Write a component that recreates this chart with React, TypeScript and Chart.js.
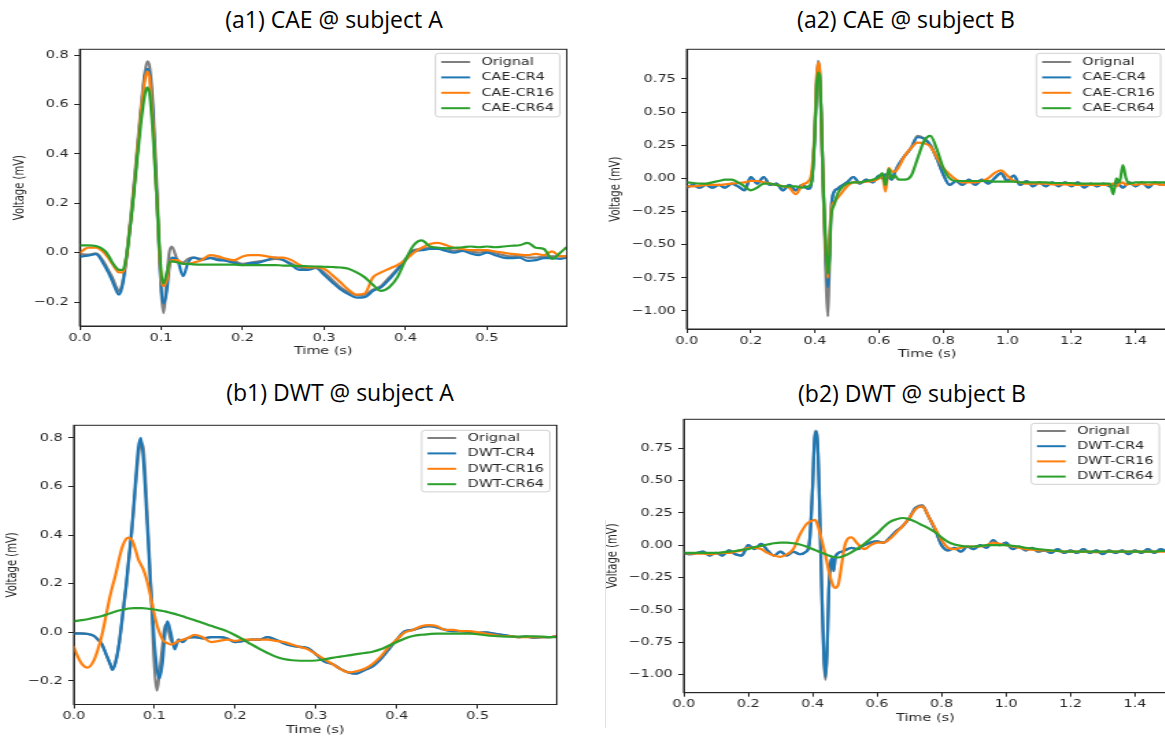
import React, { useEffect, useRef } from "react";
import { Chart, registerables } from "chart.js";

Chart.register(...registerables);

// ---------- data ----------
const seriesColors = ["#7f7f7f", "#1f77b4", "#ff7f0e", "#2ca02c"];
const caeNames = ["Orignal", "CAE-CR4", "CAE-CR16", "CAE-CR64"];
const dwtNames = ["Orignal", "DWT-CR4", "DWT-CR16", "DWT-CR64"];

const xTicksA = [0, 0.1, 0.2, 0.3, 0.4, 0.5];
const xLabelsA = ["0.0", "0.1", "0.2", "0.3", "0.4", "0.5"];
const xTicksB = [0, 0.2, 0.4, 0.6, 0.8, 1.0, 1.2, 1.4];
const xLabelsB = ["0.0", "0.2", "0.4", "0.6", "0.8", "1.0", "1.2", "1.4"];
const yTicksA = [-0.2, 0, 0.2, 0.4, 0.6, 0.8];
const yLabelsA = ["\u22120.2", "0.0", "0.2", "0.4", "0.6", "0.8"];
const yTicksB = [-1, -0.75, -0.5, -0.25, 0, 0.25, 0.5, 0.75];
const yLabelsB = ["\u22121.00", "\u22120.75", "\u22120.50", "\u22120.25", "0.00", "0.25", "0.50", "0.75"];

// (a1) CAE @ subject A
const timeA1 = [
  0, 0.01, 0.02, 0.03, 0.035, 0.04, 0.045, 0.048, 0.052, 0.056,
  0.06, 0.065, 0.07, 0.075, 0.08, 0.083, 0.086, 0.09, 0.095, 0.1,
  0.103, 0.107, 0.11, 0.113, 0.12, 0.127, 0.133, 0.14,
  0.15, 0.16, 0.17, 0.18, 0.19, 0.2, 0.21, 0.22, 0.23, 0.24,
  0.25, 0.26, 0.27, 0.28, 0.29, 0.3, 0.31, 0.32, 0.33, 0.34,
  0.35, 0.36, 0.37, 0.38, 0.39, 0.4, 0.41, 0.42, 0.43, 0.44,
  0.45, 0.46, 0.47, 0.48, 0.49, 0.5, 0.51, 0.52, 0.53, 0.54,
  0.55, 0.56, 0.57, 0.58, 0.59, 0.597,
];
const origA1 = [
  -0.005, -0.008, -0.003, -0.04, -0.07, -0.1, -0.14, -0.155, -0.13, -0.05,
  0.06, 0.22, 0.4, 0.58, 0.73, 0.775, 0.75, 0.6, 0.25, -0.15,
  -0.245, -0.1, 0.0, 0.025, -0.03, -0.04, -0.025, -0.02,
  -0.025, -0.02, -0.025, -0.03, -0.035, -0.045, -0.04, -0.035, -0.03, -0.025,
  -0.03, -0.045, -0.06, -0.065, -0.06, -0.08, -0.11, -0.14, -0.16, -0.172,
  -0.17, -0.15, -0.135, -0.1, -0.065, -0.025, 0.01, 0.015, 0.02, 0.02,
  0.015, 0.008, 0.012, 0.005, 0.0, 0.005, -0.002, -0.01, -0.015, -0.012,
  -0.02, -0.02, -0.015, -0.015, -0.015, -0.015,
];
const cr4A1 = [
  -0.016, -0.012, -0.006, -0.05, -0.08, -0.115, -0.155, -0.17, -0.14, -0.06,
  0.044, 0.2, 0.375, 0.56, 0.713, 0.745, 0.72, 0.56, 0.2, -0.14,
  -0.205, -0.155, -0.06, -0.02, -0.03, -0.095, -0.04, -0.02,
  -0.03, -0.022, -0.03, -0.033, -0.042, -0.05, -0.042, -0.04, -0.03, -0.02,
  -0.03, -0.05, -0.07, -0.07, -0.062, -0.09, -0.12, -0.148, -0.168, -0.182,
  -0.18, -0.155, -0.14, -0.108, -0.07, -0.03, 0.007, 0.01, 0.015, 0.015,
  0.007, 0.0, 0.007, -0.003, -0.01, 0.0, -0.01, -0.02, -0.022, -0.02,
  -0.033, -0.03, -0.022, -0.022, -0.025, -0.02,
];
const cr16A1 = [
  0.0, 0.02, 0.02, 0.0, -0.02, -0.045, -0.07, -0.08, -0.08, -0.05,
  0.05, 0.2, 0.38, 0.56, 0.7, 0.735, 0.7, 0.52, 0.2, -0.1,
  -0.135, -0.11, -0.05, -0.03, -0.03, -0.045, -0.045, -0.04,
  -0.03, -0.01, -0.015, -0.025, -0.03, -0.015, -0.01, -0.01, -0.015, -0.02,
  -0.02, -0.03, -0.05, -0.06, -0.06, -0.065, -0.09, -0.12, -0.15, -0.17,
  -0.165, -0.1, -0.08, -0.065, -0.05, -0.03, 0.0, 0.02, 0.035, 0.04,
  0.03, 0.02, 0.015, 0.01, 0.01, 0.01, 0.005, 0.0, -0.005, -0.008,
  -0.01, -0.005, -0.01, 0.005, -0.015, -0.015,
];
const cr64A1 = [
  0.03, 0.03, 0.027, 0.01, -0.01, -0.04, -0.062, -0.07, -0.07, -0.04,
  0.05, 0.19, 0.36, 0.52, 0.64, 0.67, 0.64, 0.48, 0.2, -0.08,
  -0.125, -0.08, -0.04, -0.035, -0.04, -0.045, -0.045, -0.047,
  -0.048, -0.048, -0.048, -0.048, -0.048, -0.05, -0.05, -0.05, -0.05, -0.05,
  -0.052, -0.052, -0.054, -0.055, -0.056, -0.057, -0.058, -0.06, -0.065, -0.08,
  -0.1, -0.13, -0.155, -0.14, -0.1, -0.03, 0.03, 0.05, 0.025, 0.02,
  0.018, 0.02, 0.022, 0.025, 0.022, 0.025, 0.022, 0.025, 0.028, 0.03,
  0.04, 0.02, 0.015, -0.025, 0.0, 0.02,
];

// (a2) CAE @ subject B
const timeA2 = [
  0, 0.02, 0.04, 0.06, 0.08, 0.1, 0.12, 0.14, 0.16, 0.18, 0.2, 0.22, 0.24, 0.26, 0.28, 0.3, 0.32, 0.34, 0.36, 0.38,
  0.39, 0.4, 0.405, 0.41, 0.415, 0.42, 0.425, 0.43, 0.435, 0.44, 0.445, 0.45, 0.46, 0.47, 0.48,
  0.5, 0.52, 0.54, 0.56, 0.58, 0.6,
  0.61, 0.62, 0.63, 0.64, 0.65, 0.66,
  0.68, 0.7, 0.72, 0.74, 0.76, 0.78, 0.8, 0.82, 0.84, 0.86, 0.88, 0.9, 0.92, 0.94, 0.96, 0.98, 1.0,
  1.02, 1.04, 1.06, 1.08, 1.1, 1.12, 1.14, 1.16, 1.18, 1.2, 1.22, 1.24, 1.26, 1.28, 1.3, 1.32,
  1.33, 1.34, 1.35, 1.36, 1.37, 1.38,
  1.4, 1.42, 1.44, 1.46, 1.48, 1.5,
];
const origA2 = [
  -0.07, -0.05, -0.07, -0.05, -0.07, -0.05, -0.07, -0.04, -0.06, -0.09, 0.01, -0.04, 0.01, -0.05, -0.04, -0.09, -0.05, -0.09, -0.05, -0.08,
  -0.02, 0.37, 0.72, 0.885, 0.8, 0.45, 0.0, -0.4, -0.8, -1.04, -0.7, -0.28, -0.1, -0.08, -0.06,
  -0.03, 0.01, -0.04, -0.01, -0.03, 0.02,
  0.0, 0.03, 0.01, -0.01, 0.05, 0.1,
  0.17, 0.23, 0.32, 0.3, 0.25, 0.15, 0.03, -0.05, -0.02, -0.05, -0.01, -0.05, -0.01, -0.04, 0.0, 0.04, -0.02,
  0.02, -0.05, -0.02, -0.06, -0.03, -0.06, -0.03, -0.06, -0.03, -0.06, -0.03, -0.07, -0.04, -0.06, -0.04, -0.06,
  -0.05, -0.03, -0.05, -0.07, -0.05, -0.03,
  -0.06, -0.03, -0.07, -0.03, -0.05, -0.04,
];
const cr4A2 = [
  -0.07, -0.05, -0.07, -0.05, -0.07, -0.05, -0.07, -0.04, -0.06, -0.09, 0.01, -0.04, 0.01, -0.05, -0.04, -0.09, -0.05, -0.09, -0.05, -0.08,
  -0.02, 0.35, 0.7, 0.85, 0.78, 0.45, 0.0, -0.35, -0.65, -0.82, -0.6, -0.25, -0.1, -0.08, -0.06,
  -0.03, 0.01, -0.04, -0.01, -0.03, 0.02,
  0.0, 0.03, 0.01, -0.01, 0.05, 0.1,
  0.17, 0.23, 0.31, 0.3, 0.25, 0.15, 0.03, -0.05, -0.02, -0.05, -0.01, -0.05, -0.01, -0.04, 0.0, 0.04, -0.02,
  0.02, -0.05, -0.02, -0.06, -0.03, -0.06, -0.03, -0.06, -0.03, -0.06, -0.03, -0.07, -0.04, -0.06, -0.04, -0.06,
  -0.05, -0.03, -0.05, -0.07, -0.05, -0.03,
  -0.06, -0.03, -0.07, -0.03, -0.05, -0.04,
];
const cr16A2 = [
  -0.06, -0.06, -0.055, -0.05, -0.05, -0.05, -0.045, -0.04, -0.035, -0.03, -0.02, -0.02, -0.03, -0.04, -0.05, -0.06, -0.07, -0.12, -0.05, -0.02,
  0.05, 0.4, 0.75, 0.87, 0.8, 0.45, 0.0, -0.35, -0.6, -0.75, -0.55, -0.25, -0.18, -0.15, -0.12,
  -0.06, -0.03, -0.03, -0.025, -0.02, 0.0,
  0.02, -0.1, 0.08, 0.05, 0.05, 0.08,
  0.17, 0.23, 0.27, 0.265, 0.24, 0.16, 0.08, 0.03, -0.01, -0.03, -0.03, -0.03, -0.02, 0.0, 0.04, 0.06, 0.02,
  -0.02, -0.03, -0.04, -0.04, -0.04, -0.04, -0.045, -0.045, -0.045, -0.05, -0.05, -0.05, -0.05, -0.05, -0.05, -0.05,
  -0.04, -0.06, -0.04, -0.03, -0.05, -0.04,
  -0.05, -0.04, -0.05, -0.04, -0.05, -0.05,
];
const cr64A2 = [
  -0.03, -0.035, -0.04, -0.04, -0.03, -0.02, -0.01, -0.01, -0.03, -0.06, -0.09, -0.07, -0.04, -0.04, -0.05, -0.06, -0.06, -0.06, -0.07, -0.06,
  -0.02, 0.35, 0.68, 0.8, 0.76, 0.45, 0.0, -0.3, -0.55, -0.72, -0.6, -0.3, -0.2, -0.12, -0.08,
  -0.04, -0.03, -0.03, -0.02, -0.01, 0.01,
  0.04, -0.05, 0.07, 0.0, 0.02, -0.01,
  -0.01, 0.02, 0.15, 0.28, 0.32, 0.22, 0.08, 0.0, -0.02, -0.02, -0.02, -0.02, -0.02, -0.02, -0.025, -0.025, -0.025,
  -0.025, -0.03, -0.03, -0.03, -0.03, -0.03, -0.035, -0.035, -0.035, -0.035, -0.04, -0.04, -0.04, -0.04, -0.04, -0.04,
  -0.12, 0.0, -0.03, 0.1, 0.0, -0.04,
  -0.03, -0.03, -0.03, -0.03, -0.03, -0.03,
];

// (b1) DWT @ subject A
const timeB1 = [
  0, 0.005, 0.01, 0.017, 0.025, 0.03, 0.035, 0.04, 0.045, 0.048,
  0.052, 0.056, 0.06, 0.065, 0.068, 0.072, 0.076, 0.08, 0.083, 0.086,
  0.09, 0.095, 0.1, 0.103, 0.106, 0.11, 0.113, 0.116, 0.12, 0.125,
  0.13, 0.135, 0.14,
  0.15, 0.16, 0.17, 0.18, 0.19, 0.2, 0.21, 0.22, 0.23, 0.24,
  0.25, 0.26, 0.27, 0.28, 0.29, 0.3, 0.31, 0.32, 0.33, 0.34,
  0.35, 0.36, 0.37, 0.38, 0.39, 0.4, 0.41, 0.42, 0.43, 0.44,
  0.45, 0.46, 0.47, 0.48, 0.49, 0.5, 0.51, 0.52, 0.53, 0.54,
  0.55, 0.56, 0.57, 0.58, 0.59, 0.597,
];
const origB1 = [
  -0.003, -0.003, -0.004, -0.006, -0.014, -0.03, -0.05, -0.09, -0.13, -0.15,
  -0.12, -0.05, 0.05, 0.19, 0.29, 0.42, 0.58, 0.73, 0.78, 0.76,
  0.55, 0.22, -0.15, -0.24, -0.17, -0.05, 0.03, 0.02, -0.03, -0.05,
  -0.03, -0.04, -0.025,
  -0.02, -0.025, -0.02, -0.02, -0.025, -0.04, -0.035, -0.03, -0.03, -0.02,
  -0.03, -0.045, -0.055, -0.06, -0.065, -0.09, -0.12, -0.13, -0.15, -0.165,
  -0.17, -0.155, -0.14, -0.11, -0.07, -0.03, 0.005, 0.01, 0.02, 0.025,
  0.02, 0.01, 0.005, 0.005, 0.0, -0.003, 0.0, -0.005, -0.01, -0.015,
  -0.02, -0.018, -0.022, -0.02, -0.02, -0.015,
];
const cr4B1 = [
  -0.005, -0.005, -0.005, -0.007, -0.015, -0.03, -0.05, -0.09, -0.13, -0.155,
  -0.12, -0.05, 0.06, 0.2, 0.3, 0.43, 0.6, 0.76, 0.8, 0.72,
  0.5, 0.2, -0.05, -0.15, -0.19, -0.12, 0.0, 0.045, 0.0, -0.07,
  -0.03, -0.04, -0.025,
  -0.02, -0.025, -0.02, -0.02, -0.025, -0.04, -0.035, -0.03, -0.03, -0.02,
  -0.03, -0.045, -0.055, -0.06, -0.065, -0.09, -0.12, -0.13, -0.15, -0.165,
  -0.17, -0.155, -0.14, -0.11, -0.07, -0.03, 0.005, 0.01, 0.02, 0.025,
  0.02, 0.01, 0.005, 0.005, 0.0, -0.003, 0.0, -0.005, -0.01, -0.015,
  -0.02, -0.018, -0.022, -0.02, -0.02, -0.015,
];
const cr16B1 = [
  -0.06, -0.1, -0.13, -0.145, -0.115, -0.07, -0.01, 0.07, 0.15, 0.19,
  0.24, 0.3, 0.35, 0.385, 0.39, 0.38, 0.345, 0.3, 0.28, 0.26,
  0.22, 0.15, 0.07, 0.03, 0.0, -0.03, -0.04, -0.045, -0.05, -0.045,
  -0.035, -0.03, -0.025,
  -0.01, -0.02, -0.04, -0.035, -0.03, -0.035, -0.03, -0.03, -0.03, -0.03,
  -0.035, -0.04, -0.05, -0.06, -0.07, -0.09, -0.11, -0.13, -0.15, -0.165,
  -0.16, -0.15, -0.13, -0.1, -0.06, -0.03, 0.0, 0.01, 0.025, 0.03,
  0.025, 0.01, 0.01, 0.005, 0.005, 0.0, -0.005, -0.01, -0.015, -0.015,
  -0.02, -0.02, -0.02, -0.02, -0.02, -0.015,
];
const cr64B1 = [
  0.045, 0.048, 0.05, 0.054, 0.06, 0.063, 0.067, 0.072, 0.078, 0.082,
  0.086, 0.09, 0.093, 0.096, 0.098, 0.099, 0.1, 0.1, 0.1, 0.099,
  0.098, 0.096, 0.094, 0.092, 0.09, 0.088, 0.086, 0.084, 0.08, 0.076,
  0.071, 0.066, 0.06,
  0.05, 0.038, 0.027, 0.016, 0.004, -0.012, -0.03, -0.05, -0.068, -0.085,
  -0.1, -0.11, -0.115, -0.117, -0.117, -0.116, -0.112, -0.105, -0.1, -0.095,
  -0.09, -0.085, -0.08, -0.07, -0.055, -0.04, -0.025, -0.015, -0.01, -0.007,
  -0.005, -0.005, -0.005, -0.005, -0.005, -0.008, -0.012, -0.015, -0.017, -0.018,
  -0.018, -0.017, -0.017, -0.018, -0.02, -0.02,
];

// (b2) DWT @ subject B
const timeB2 = [
  0, 0.02, 0.04, 0.06, 0.08, 0.1, 0.12, 0.14, 0.16, 0.18, 0.2, 0.22, 0.24, 0.26, 0.28, 0.3, 0.32, 0.34, 0.36, 0.38,
  0.39, 0.4, 0.405, 0.41, 0.415, 0.42, 0.425, 0.43, 0.435, 0.44, 0.445, 0.45, 0.46, 0.465, 0.47, 0.48, 0.49,
  0.5, 0.52, 0.54, 0.56, 0.58, 0.6, 0.62, 0.64, 0.66, 0.68,
  0.7, 0.72, 0.74, 0.76, 0.78, 0.8, 0.82, 0.84, 0.86, 0.88,
  0.9, 0.92, 0.94, 0.96, 0.98, 1.0, 1.02, 1.04, 1.06, 1.08,
  1.1, 1.12, 1.14, 1.16, 1.18, 1.2, 1.22, 1.24, 1.26, 1.28,
  1.3, 1.32, 1.34, 1.36, 1.38, 1.4, 1.42, 1.44, 1.46, 1.48, 1.5,
];
const origB2 = [
  -0.06, -0.07, -0.06, -0.05, -0.08, -0.06, -0.08, -0.04, -0.07, -0.08, 0.0, -0.03, 0.01, -0.04, -0.08, -0.05, -0.08, -0.05, -0.07, -0.05,
  0.02, 0.46, 0.8, 0.885, 0.8, 0.45, -0.05, -0.52, -0.9, -1.04, -0.82, -0.35, -0.1, -0.2, -0.1, -0.06, -0.05,
  -0.04, -0.02, -0.03, 0.0, 0.02, 0.03, 0.02, 0.06, 0.11, 0.15,
  0.21, 0.29, 0.31, 0.22, 0.12, 0.0, -0.04, -0.02, -0.05, -0.01,
  -0.03, 0.0, -0.02, 0.04, 0.0, 0.02, -0.03, -0.01, -0.04, -0.02,
  -0.05, -0.04, -0.06, -0.03, -0.06, -0.04, -0.06, -0.03, -0.06, -0.04,
  -0.07, -0.04, -0.06, -0.04, -0.07, -0.04, -0.06, -0.03, -0.06, -0.03, -0.05,
];
const cr4B2 = [
  -0.06, -0.07, -0.06, -0.05, -0.08, -0.06, -0.08, -0.04, -0.07, -0.08, 0.0, -0.03, 0.01, -0.04, -0.08, -0.05, -0.08, -0.05, -0.07, -0.05,
  0.02, 0.45, 0.78, 0.88, 0.8, 0.45, -0.05, -0.5, -0.85, -1.02, -0.8, -0.35, -0.1, -0.2, -0.1, -0.06, -0.05,
  -0.04, -0.02, -0.03, 0.0, 0.02, 0.03, 0.02, 0.06, 0.11, 0.15,
  0.21, 0.29, 0.3, 0.22, 0.12, 0.0, -0.04, -0.02, -0.05, -0.01,
  -0.03, 0.0, -0.02, 0.04, 0.0, 0.02, -0.03, -0.01, -0.04, -0.02,
  -0.05, -0.04, -0.06, -0.03, -0.06, -0.04, -0.06, -0.03, -0.06, -0.04,
  -0.07, -0.04, -0.06, -0.04, -0.07, -0.04, -0.06, -0.03, -0.06, -0.03, -0.05,
];
const cr16B2 = [
  -0.06, -0.065, -0.065, -0.065, -0.07, -0.065, -0.06, -0.06, -0.05, -0.04, -0.02, -0.02, -0.03, -0.06, -0.08, -0.09, -0.07, -0.03, 0.08, 0.16,
  0.18, 0.19, 0.195, 0.19, 0.16, 0.12, 0.07, 0.02, -0.03, -0.08, -0.14, -0.2, -0.29, -0.32, -0.33, -0.3, -0.15,
  0.0, 0.06, 0.01, -0.03, 0.0, 0.02, 0.02, 0.05, 0.1, 0.15,
  0.21, 0.28, 0.3, 0.22, 0.13, 0.04, -0.02, -0.03, -0.02, -0.01,
  -0.01, -0.01, 0.0, 0.02, 0.01, 0.0, -0.01, -0.02, -0.03, -0.035,
  -0.04, -0.04, -0.045, -0.045, -0.05, -0.05, -0.05, -0.05, -0.05, -0.055,
  -0.05, -0.05, -0.05, -0.05, -0.05, -0.05, -0.05, -0.05, -0.05, -0.05, -0.05,
];
const cr64B2 = [
  -0.06, -0.06, -0.06, -0.06, -0.06, -0.06, -0.055, -0.05, -0.045, -0.035, -0.03, -0.015, -0.005, 0.005, 0.015, 0.02, 0.02, 0.015, 0.005, -0.01,
  -0.02, -0.03, -0.035, -0.04, -0.045, -0.05, -0.055, -0.06, -0.065, -0.07, -0.075, -0.08, -0.088, -0.09, -0.093, -0.095, -0.09,
  -0.08, -0.055, -0.025, 0.01, 0.05, 0.09, 0.14, 0.18, 0.2, 0.21,
  0.2, 0.18, 0.155, 0.13, 0.1, 0.06, 0.025, 0.005, -0.005, -0.01,
  -0.01, -0.005, 0.0, 0.0, 0.0, 0.0, -0.005, -0.01, -0.02, -0.025,
  -0.03, -0.035, -0.04, -0.045, -0.05, -0.05, -0.05, -0.05, -0.05, -0.05,
  -0.05, -0.05, -0.05, -0.05, -0.05, -0.05, -0.05, -0.05, -0.05, -0.045, -0.045,
];

// ---------- rendering ----------
const STRETCH = 1.37; // the reference figure is stretched horizontally
const X_AXIS_H = 36;
const FONT = '"DejaVu Sans", "Liberation Sans", sans-serif';
const INK = "#262626";

type PanelSpec = {
  title: string;
  titleX: number;
  titleY: number;
  L: number; T: number; R: number; B: number;
  yW: number;
  yLabelX: number;
  time: number[];
  series: number[][];
  names: string[];
  xMax: number;
  yMin: number; yMax: number;
  xTicks: number[]; xLabels: string[];
  yTicks: number[]; yLabels: string[];
  legend: { right: number; top: number; first: number; row: number };
};

const framePlugin = {
  id: "mplFrame",
  afterDatasetsDraw(chart: any) {
    const { ctx, chartArea: a } = chart;
    ctx.save();
    ctx.strokeStyle = INK;
    ctx.lineWidth = 1;
    ctx.strokeRect(a.left, a.top, a.right - a.left, a.bottom - a.top);
    ctx.restore();
  },
};

const legendPlugin = {
  id: "mplLegend",
  afterDraw(chart: any, _args: any, opts: any) {
    const { ctx, chartArea: a } = chart;
    const fs = 10.5;
    const ds = chart.data.datasets;
    ctx.save();
    ctx.font = `${fs}px ${FONT}`;
    const maxW = Math.max(...ds.map((d: any) => ctx.measureText(d.label).width));
    const pad = 0.4 * fs;
    const handle = 2 * fs;
    const gap = 0.8 * fs;
    const w = pad + handle + gap + maxW + pad;
    const h = opts.first * 2 + opts.row * (ds.length - 1);
    const x = a.right - opts.right - w;
    const y = a.top + opts.top;
    const r = 2.5;
    ctx.beginPath();
    ctx.moveTo(x + r, y);
    ctx.lineTo(x + w - r, y);
    ctx.quadraticCurveTo(x + w, y, x + w, y + r);
    ctx.lineTo(x + w, y + h - r);
    ctx.quadraticCurveTo(x + w, y + h, x + w - r, y + h);
    ctx.lineTo(x + r, y + h);
    ctx.quadraticCurveTo(x, y + h, x, y + h - r);
    ctx.lineTo(x, y + r);
    ctx.quadraticCurveTo(x, y, x + r, y);
    ctx.closePath();
    ctx.fillStyle = "rgba(255,255,255,0.85)";
    ctx.fill();
    ctx.strokeStyle = "#d0d0d0";
    ctx.lineWidth = 1;
    ctx.stroke();
    ds.forEach((d: any, i: number) => {
      const cy = y + opts.first + i * opts.row;
      ctx.beginPath();
      ctx.moveTo(x + pad, cy);
      ctx.lineTo(x + pad + handle, cy);
      ctx.strokeStyle = d.borderColor;
      ctx.lineWidth = 2;
      ctx.stroke();
      ctx.fillStyle = INK;
      ctx.textBaseline = "middle";
      ctx.textAlign = "left";
      ctx.fillText(d.label, x + pad + handle + gap, cy);
    });
    ctx.restore();
  },
};

const panels: PanelSpec[] = [
  {
    title: "(a1) CAE @ subject A", titleX: 334, titleY: 19,
    L: 80, T: 45, R: 567, B: 326, yW: 56, yLabelX: 20,
    time: timeA1, series: [origA1, cr4A1, cr16A1, cr64A1], names: caeNames,
    xMax: 0.598, yMin: -0.297, yMax: 0.824,
    xTicks: xTicksA, xLabels: xLabelsA, yTicks: yTicksA, yLabels: yLabelsA,
    legend: { right: 5.1, top: 4, first: 8.7, row: 15.4 },
  },
  {
    title: "(a2) CAE @ subject B", titleX: 906, titleY: 19,
    L: 687, T: 45, R: 1168, B: 329, yW: 64, yLabelX: 616.7,
    time: timeA2, series: [origA2, cr4A2, cr16A2, cr64A2], names: caeNames,
    xMax: 1.5, yMin: -1.136, yMax: 0.973,
    xTicks: xTicksB, xLabels: xLabelsB, yTicks: yTicksB, yLabels: yLabelsB,
    legend: { right: 5.1, top: 4, first: 8.7, row: 15.4 },
  },
  {
    title: "(b1) DWT @ subject A", titleX: 340, titleY: 392,
    L: 74, T: 421, R: 557, B: 704.5, yW: 56, yLabelX: 13.3,
    time: timeB1, series: [origB1, cr4B1, cr16B1, cr64B1], names: dwtNames,
    xMax: 0.598, yMin: -0.297, yMax: 0.852,
    xTicks: xTicksA, xLabels: xLabelsA, yTicks: yTicksA, yLabels: yLabelsA,
    legend: { right: 5.1, top: 5, first: 7.7, row: 15.4 },
  },
  {
    title: "(b2) DWT @ subject B", titleX: 912, titleY: 393,
    L: 683.5, T: 415, R: 1167, B: 692.7, yW: 64, yLabelX: 613.3,
    time: timeB2, series: [origB2, cr4B2, cr16B2, cr64B2], names: dwtNames,
    xMax: 1.5, yMin: -1.14, yMax: 0.973,
    xTicks: xTicksB, xLabels: xLabelsB, yTicks: yTicksB, yLabels: yLabelsB,
    legend: { right: 5.8, top: 4, first: 7.7, row: 15.2 },
  },
];

function Panel({ p }: { p: PanelSpec }) {
  const ref = useRef<HTMLCanvasElement | null>(null);
  const plotW = (p.R - p.L) / STRETCH;
  const canvasW = Math.ceil(p.yW + plotW + 6);
  const padRight = canvasW - p.yW - plotW;
  const top0 = Math.floor(p.T) - 6;
  const padTop = p.T - top0;
  const canvasH = Math.ceil(padTop + (p.B - p.T) + X_AXIS_H);
  const padBottom = canvasH - padTop - (p.B - p.T) - X_AXIS_H;
  const left0 = p.L - STRETCH * p.yW;
  const yTitlePad = (p.yLabelX - p.L) / STRETCH + p.yW - 6;

  useEffect(() => {
    if (!ref.current) return;
    const tickFont = { family: FONT, size: 10.5 };
    const labelFont = { family: FONT, size: 10 };
    const chart = new Chart(ref.current, {
      type: "line",
      data: {
        datasets: p.series.map((vals, i) => ({
          label: p.names[i],
          data: p.time.map((t, j) => ({ x: t, y: vals[j] })),
          borderColor: seriesColors[i],
          backgroundColor: seriesColors[i],
          borderWidth: 2.2,
          pointRadius: 0,
          pointHoverRadius: 0,
          fill: false,
          cubicInterpolationMode: "monotone",
          borderJoinStyle: "round",
          borderCapStyle: "round",
          order: 4 - i,
        })),
      } as any,
      options: {
        animation: false,
        responsive: false,
        devicePixelRatio: 1,
        events: [],
        layout: { padding: { left: 0, right: padRight, top: padTop, bottom: padBottom } },
        plugins: {
          legend: { display: false },
          tooltip: { enabled: false },
          title: { display: false },
          mplLegend: p.legend,
        } as any,
        scales: {
          x: {
            type: "linear",
            min: 0,
            max: p.xMax,
            afterBuildTicks: (s: any) => { s.ticks = p.xTicks.map((v) => ({ value: v })); },
            afterFit: (s: any) => { s.height = X_AXIS_H; },
            ticks: {
              callback: (_v: any, i: number) => p.xLabels[i],
              font: tickFont, color: INK, padding: 1.5, maxRotation: 0, autoSkip: false,
            },
            grid: { display: true, drawOnChartArea: false, drawTicks: true, tickLength: 4, tickColor: INK, tickWidth: 1 },
            border: { display: true, color: INK, width: 1 },
            title: { display: true, text: "Time (s)", font: tickFont, color: INK, padding: { top: 0, bottom: 4 } },
          },
          y: {
            type: "linear",
            min: p.yMin,
            max: p.yMax,
            afterBuildTicks: (s: any) => { s.ticks = p.yTicks.map((v) => ({ value: v })); },
            afterFit: (s: any) => { s.width = p.yW; },
            ticks: {
              callback: (_v: any, i: number) => p.yLabels[i],
              font: tickFont, color: INK, padding: 4, autoSkip: false,
            },
            grid: { display: true, drawOnChartArea: false, drawTicks: true, tickLength: 4, tickColor: INK, tickWidth: 1 },
            border: { display: true, color: INK, width: 1 },
            title: { display: true, text: "Voltage (mV)", font: labelFont, color: INK, padding: { top: yTitlePad, bottom: 0 } },
          },
        } as any,
      },
      plugins: [framePlugin, legendPlugin] as any,
    });
    return () => chart.destroy();
  }, []);

  return (
    <>
      <div
        style={{
          position: "absolute",
          left: left0,
          top: top0,
          width: canvasW,
          height: canvasH,
          transform: `scaleX(${STRETCH})`,
          transformOrigin: "0 0",
        }}
      >
        <canvas ref={ref} width={canvasW} height={canvasH} style={{ width: canvasW, height: canvasH, display: "block" }} />
      </div>
      <div
        style={{
          position: "absolute",
          left: p.titleX,
          top: p.titleY,
          transform: "translate(-50%, -50%)",
          font: '23px "Open Sans", "Noto Sans", sans-serif',
          lineHeight: "28px",
          whiteSpace: "nowrap",
          color: "#000",
        }}
      >
        {p.title}
      </div>
    </>
  );
}

export default function App() {
  return (
    <div
      style={{
        position: "absolute",
        left: 0,
        top: 0,
        width: 1165,
        height: 739,
        overflow: "hidden",
        background: "#fff",
      }}
    >
      {panels.map((p, i) => (
        <Panel key={i} p={p} />
      ))}
      <div style={{ position: "absolute", left: 605, top: 520, width: 1, height: 208, background: "#e2e2e2" }} />
    </div>
  );
}
